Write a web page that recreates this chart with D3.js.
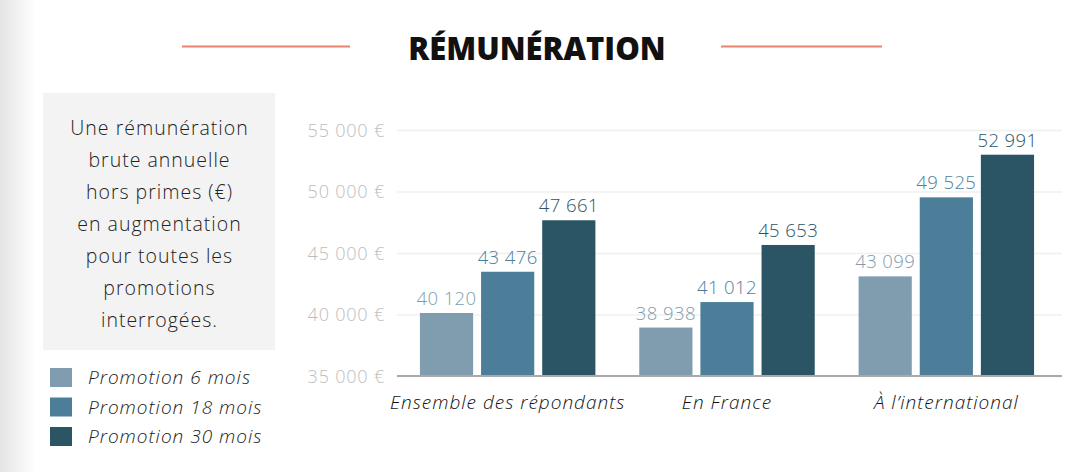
<!DOCTYPE html>
<html><head><meta charset="utf-8">
<script src="https://cdn.jsdelivr.net/npm/d3@7"></script>
<style>
html,body{margin:0;padding:0;background:#fff;}
svg{display:block;}
</style></head>
<body>
<svg id="chart" width="1082" height="472"></svg>
<script>
const title = "RÉMUNÉRATION";
const categories = ["Ensemble des répondants", "En France", "À l’international"];
const seriesNames = ["Promotion 6 mois", "Promotion 18 mois", "Promotion 30 mois"];
const promo6 = [40120, 38938, 43099];
const promo18 = [43476, 41012, 49525];
const promo30 = [47661, 45653, 52991];
const yTicks = [35000, 40000, 45000, 50000, 55000];
const descLines = ["Une rémunération", "brute annuelle", "hors primes (€)", "en augmentation", "pour toutes les", "promotions", "interrogées."];
const colors = ["#7f9dae", "#4d7e99", "#2b5464"];

const series = [promo6, promo18, promo30];
const svg = d3.select("#chart");
const font2 = "'Open Sans', sans-serif";

// page left-edge shading
const defs = svg.append("defs");
const g1 = defs.append("linearGradient").attr("id","edge").attr("x1",0).attr("x2",1);
g1.append("stop").attr("offset",0).attr("stop-color","#e4e4e4");
g1.append("stop").attr("offset",1).attr("stop-color","#ffffff");
svg.append("rect").attr("x",0).attr("y",0).attr("width",36).attr("height",472).attr("fill","url(#edge)");

// title
svg.append("text").attr("x",537).attr("y",60).attr("text-anchor","middle")
  .attr("font-family",font2).attr("font-weight",800).attr("font-size",31)
  .attr("fill","#111").text(title);
svg.append("line").attr("x1",182).attr("x2",350).attr("y1",46.5).attr("y2",46.5).attr("stroke","#e8836f").attr("stroke-width",2);
svg.append("line").attr("x1",721).attr("x2",882).attr("y1",46.5).attr("y2",46.5).attr("stroke","#e8836f").attr("stroke-width",2);

// description box
svg.append("rect").attr("x",43).attr("y",93).attr("width",232).attr("height",257).attr("fill","#f3f3f3");
svg.append("g").selectAll("text").data(descLines).join("text")
  .attr("x",159.5).attr("y",(d,i)=>135+i*32).attr("text-anchor","middle")
  .attr("font-family",font2).attr("font-weight",300).attr("font-size",19.5).attr("letter-spacing",1)
  .attr("fill","#222").text(d=>d);

// legend
const leg = svg.append("g").selectAll("g").data(seriesNames).join("g")
  .attr("transform",(d,i)=>`translate(50,${368+i*29.5})`);
leg.append("rect").attr("width",22).attr("height",19).attr("fill",(d,i)=>colors[i]);
leg.append("text").attr("x",38).attr("y",16).attr("font-family",font2).attr("font-weight",300).attr("font-style","italic")
  .attr("font-size",19).attr("letter-spacing",1).attr("fill","#222").text(d=>d);

// scales
const y = d3.scaleLinear().domain([35000,55000]).range([376,130]);
const x0 = d3.scaleBand().domain(categories).range([398,1056]).paddingInner(0.2).paddingOuter(0.1);
const x1 = d3.scaleBand().domain(d3.range(3)).range([0,x0.bandwidth()]).paddingInner(0.13).paddingOuter(0);

// grid
const yAxis = d3.axisLeft(y).tickValues(yTicks).tickSize(-(1062-397)).tickPadding(12)
  .tickFormat(d => d3.format(",")(d).replace(/,/g," ") + " €");
const ga = svg.append("g").attr("transform","translate(397,0)").call(yAxis);
ga.select(".domain").remove();
ga.selectAll(".tick line").attr("stroke","#f0f0f0").attr("stroke-width",1.5);
ga.selectAll(".tick text").attr("font-family",font2).attr("font-weight",300).attr("font-size",18)
  .attr("letter-spacing",0.8).attr("fill","#bdbdbd").attr("dy","0.35em");

// bars
const groups = svg.append("g").selectAll("g").data(categories).join("g")
  .attr("transform",d=>`translate(${x0(d)},0)`);
groups.selectAll("rect").data((d,ci)=>series.map((s,si)=>({si,v:s[ci]}))).join("rect")
  .attr("x",d=>x1(d.si)).attr("width",x1.bandwidth())
  .attr("y",d=>y(d.v)).attr("height",d=>y(35000)-y(d.v)).attr("fill",d=>colors[d.si]);
groups.selectAll("text").data((d,ci)=>series.map((s,si)=>({si,v:s[ci]}))).join("text")
  .attr("x",d=>x1(d.si)+x1.bandwidth()/2).attr("y",d=>y(d.v)-8).attr("text-anchor","middle")
  .attr("font-family",font2).attr("font-weight",300).attr("font-size",18.5).attr("letter-spacing",0.4)
  .attr("fill",d=>colors[d.si])
  .text(d=>d3.format(",")(d.v).replace(/,/g," "));

// baseline
svg.append("line").attr("x1",397).attr("x2",1062).attr("y1",y(35000)).attr("y2",y(35000))
  .attr("stroke","#a9a9a9").attr("stroke-width",2);

// category labels
const xAxis = d3.axisBottom(x0).tickSize(0).tickPadding(20);
const gx = svg.append("g").attr("transform",`translate(0,${y(35000)})`).call(xAxis);
gx.select(".domain").remove();
gx.selectAll(".tick text").attr("font-family",font2).attr("font-weight",300).attr("font-style","italic")
  .attr("font-size",19).attr("letter-spacing",1).attr("fill","#111");
</script>
</body></html>
